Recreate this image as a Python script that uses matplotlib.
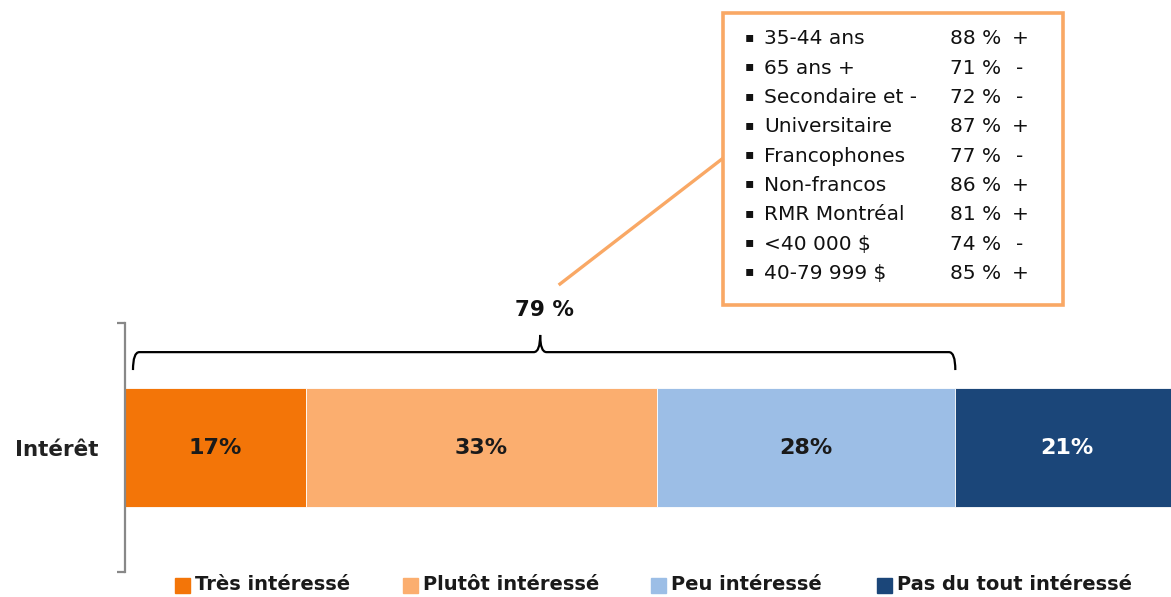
import numpy as np
import matplotlib.pyplot as plt
from matplotlib.path import Path
from matplotlib.patches import PathPatch, Rectangle

# --- Data ---
categories = ["Très intéressé", "Plutôt intéressé", "Peu intéressé", "Pas du tout intéressé"]
shares = [17, 33, 28, 21]
colors = ["#F37508", "#FBAE6F", "#9CBEE6", "#1B4679"]
label_colors = ["#1a1a1a", "#1a1a1a", "#1a1a1a", "#ffffff"]
row_label = "Intérêt"
total_label = "79 %"

groups = ["35-44 ans", "65 ans +", "Secondaire et -", "Universitaire", "Francophones",
          "Non-francos", "RMR Montréal", "<40 000 $", "40-79 999 $"]
group_values = [88, 71, 72, 87, 77, 86, 81, 74, 85]
group_signs = ["+", "-", "-", "+", "-", "+", "+", "-", "+"]

W, H = 1171, 597

fig = plt.figure(figsize=(W / 100, H / 100), dpi=100)

def fx(px):
    return px / W

def fy(py):
    return 1 - py / H

# axes placed in pixel terms: bar area from x=125 to right edge, y 323..572
ax = fig.add_axes([fx(125), fy(572), fx(W - 125), (572 - 323) / H])
px_per_pct = 10.645
ax.set_xlim(0, (W - 125) / px_per_pct)
ax.set_ylim(-0.5, 0.5)

left = 0
for v, c, lc in zip(shares, colors, label_colors):
    ax.barh(0, v, left=left, height=0.474, color=c, edgecolor="white", linewidth=0.6)
    ax.text(left + v / 2, 0, f"{v}%", ha="center", va="center", fontsize=16,
            fontweight="bold", color=lc)
    left += v

for s in ["top", "right", "bottom"]:
    ax.spines[s].set_visible(False)
ax.spines["left"].set_color("#888888")
ax.spines["left"].set_linewidth(1.6)
ax.set_xticks([])
ax.set_yticks([0])
ax.set_yticklabels([row_label], fontsize=15.5, fontweight="bold", color="#222222")
ax.tick_params(axis="y", which="major", length=0, pad=19)
ax.set_yticks([-0.5, 0.5], minor=True)
ax.tick_params(axis="y", which="minor", length=6, width=1.6, color="#888888")

# --- brace over the first three segments ---
x0, x1 = 0.75, sum(shares[:3])
xm = x1 / 2
yb, yh, yt = 0.311, 0.383, 0.452
d = 0.6
verts = [(x0, yb), (x0, yh), (x0 + d, yh),
         (xm - d, yh), (xm, yh), (xm, yt),
         (xm, yh), (xm + d, yh),
         (x1 - d, yh), (x1, yh), (x1, yb)]
codes = [Path.MOVETO, Path.CURVE3, Path.CURVE3,
         Path.LINETO, Path.CURVE3, Path.CURVE3,
         Path.CURVE3, Path.CURVE3,
         Path.LINETO, Path.CURVE3, Path.CURVE3]
ax.add_patch(PathPatch(Path(verts, codes), fill=False, lw=1.6, color="black", clip_on=False))
ax.text(xm + 0.4, 0.552, total_label, ha="center", va="center", fontsize=15.5,
        fontweight="bold", color="#111111", clip_on=False)

# --- callout box ---
box_col = "#F9A865"
fig.add_artist(plt.Line2D([fx(560), fx(722)], [fy(284), fy(159)], color=box_col, lw=2.4))
fig.add_artist(Rectangle((fx(723), fy(305)), fx(1063 - 723), (305 - 13) / H,
                         fill=True, facecolor="white", edgecolor=box_col, lw=2.6))
row_h = 29.3
for i, (g, v, s) in enumerate(zip(groups, group_values, group_signs)):
    y = fy(39 + i * row_h)
    fig.text(fx(745), fy(37 + i * row_h), "▪", fontsize=10, va="center", color="#111111")
    fig.text(fx(764), y, g, fontsize=14.5, va="center", color="#111111")
    fig.text(fx(950), y, f"{v} %", fontsize=14.5, va="center", color="#111111")
    fig.text(fx(1020), y, s, fontsize=14.5, va="center", ha="center", color="#111111")

# --- legend ---
leg_x = [175, 403, 651, 877]
for x, c, lab in zip(leg_x, colors, categories):
    fig.add_artist(Rectangle((fx(x), fy(593)), fx(15), 15 / H, color=c))
    fig.text(fx(x + 20), fy(585), lab, fontsize=14, fontweight="bold", va="center",
             color="#1a1a1a")

fig.savefig("out.png", dpi=100)
